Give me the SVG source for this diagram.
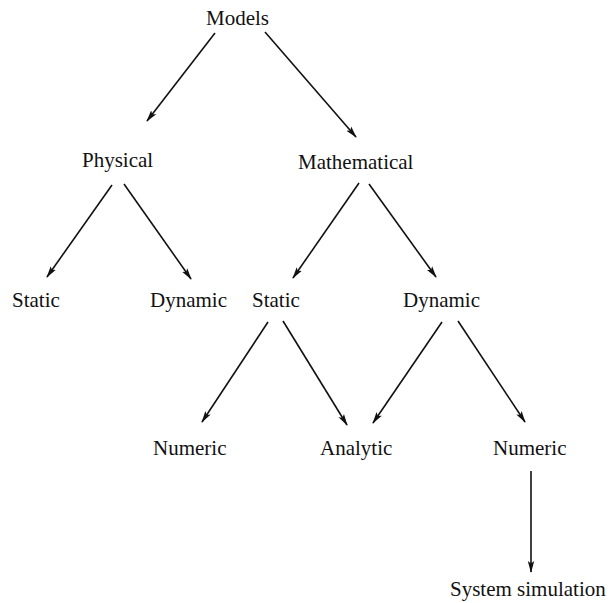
<svg xmlns="http://www.w3.org/2000/svg" width="614" height="603" viewBox="0 0 614 603">
<style>
text{font-family:"Liberation Serif","Times New Roman",serif;font-size:21px;fill:#111}
.c line{stroke:#111;stroke-width:1.6;marker-end:url(#ah)}
</style>
<defs>
<marker id="ah" viewBox="0 0 12 8" refX="11" refY="4" markerWidth="12" markerHeight="8" markerUnits="userSpaceOnUse" orient="auto">
<path d="M0,0.8 L12,4 L0,7.2 L2.5,4 Z" fill="#111"/>
</marker>
</defs>
<rect width="614" height="603" fill="#fff"/>
<g id="n-models"><text x="206" y="25">Models</text></g>
<g id="n-physical"><text x="82" y="167">Physical</text></g>
<g id="n-mathematical"><text x="298" y="169">Mathematical</text></g>
<g id="n-static1"><text x="12" y="307">Static</text></g>
<g id="n-dynamic1"><text x="150" y="307">Dynamic</text></g>
<g id="n-static2"><text x="252" y="307">Static</text></g>
<g id="n-dynamic2"><text x="403" y="307">Dynamic</text></g>
<g id="n-numeric1"><text x="153" y="455">Numeric</text></g>
<g id="n-analytic"><text x="320" y="455">Analytic</text></g>
<g id="n-numeric2"><text x="493" y="455">Numeric</text></g>
<g id="n-sim"><text x="450" y="596">System simulation</text></g>
<g class="c" id="connectors">
<line x1="215" y1="33" x2="147" y2="121"/>
<line x1="265" y1="32" x2="356" y2="137"/>
<line x1="112" y1="185" x2="47" y2="277"/>
<line x1="124" y1="184" x2="191" y2="279"/>
<line x1="359" y1="183" x2="293" y2="278"/>
<line x1="369" y1="184" x2="436" y2="277"/>
<line x1="268" y1="322" x2="202" y2="422"/>
<line x1="283" y1="321" x2="347" y2="425"/>
<line x1="442" y1="322" x2="373" y2="423"/>
<line x1="458" y1="321" x2="525" y2="422"/>
<line x1="531" y1="471" x2="531" y2="572"/>
</g>
</svg>
